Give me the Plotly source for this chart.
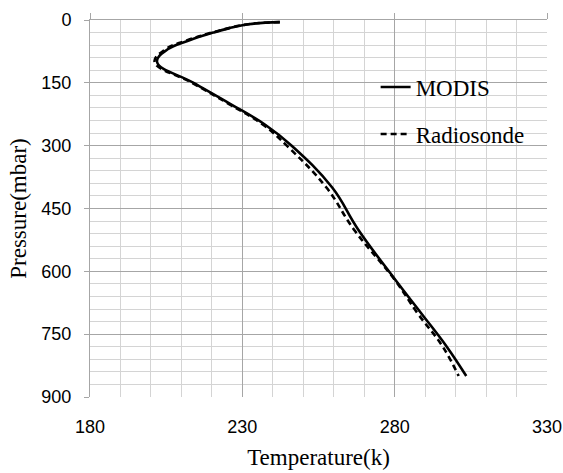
import plotly.graph_objects as go

# Pressure levels (mbar) and temperature profiles (K)
pressure = [5, 10, 20, 30, 50, 70, 100, 150, 200, 250, 300, 400, 500, 620, 700, 780, 850]
modis_temp = [242.3, 232.0, 225.5, 220.5, 212.0, 205.5, 202.0, 214.0, 226.0, 237.5, 246.2,
              259.5, 268.0, 280.2, 288.7, 297.1, 303.5]
radiosonde_temp = [242.3, 232.0, 225.2, 220.0, 211.3, 204.8, 201.2, 213.5, 225.5, 236.8, 244.6,
                   257.6, 266.6, 280.0, 287.5, 295.8, 301.0]

x_ticks = [180, 230, 280, 330]
y_ticks = [0, 150, 300, 450, 600, 750, 900]

sans = "Liberation Sans, Arial, sans-serif"
serif = "Liberation Serif, Times New Roman, serif"
minor_grid = "#d4d4d4"
major_grid = "#a6a6a6"

fig = go.Figure()
fig.add_trace(go.Scatter(
    x=modis_temp, y=pressure, mode="lines", name="MODIS",
    line=dict(color="black", width=2.6, shape="spline", smoothing=1.2),
    legendgroup="a",
))
fig.add_trace(go.Scatter(
    x=radiosonde_temp, y=pressure, mode="lines", name="Radiosonde",
    line=dict(color="black", width=2.6, dash="6px,4px", shape="spline", smoothing=1.2),
    legendgroup="b",
))
# carrier for the top axis line and its tick marks
fig.add_trace(go.Scatter(x=[None], y=[None], xaxis="x2", showlegend=False, hoverinfo="skip"))

fig.update_layout(
    width=563, height=473,
    margin=dict(l=90, r=16, t=20, b=76, autoexpand=False),
    paper_bgcolor="white", plot_bgcolor="white",
    showlegend=True,
    legend=dict(
        x=0.625, y=0.879, xanchor="left", yanchor="top",
        bgcolor="rgba(0,0,0,0)", borderwidth=0,
        font=dict(family=serif, size=23, color="black"),
        traceorder="grouped", tracegroupgap=14,
    ),
    xaxis=dict(
        range=[180, 330], tickvals=x_ticks, ticks="", showline=False,
        tickfont=dict(family=sans, size=18, color="black"),
        ticklabelstandoff=17, automargin=False,
        showgrid=True, gridcolor=major_grid, gridwidth=1,
        minor=dict(dtick=10, showgrid=True, gridcolor=minor_grid, gridwidth=1),
        zeroline=False,
        title=dict(text="Temperature(k)", font=dict(family=serif, size=23, color="black"),
                   standoff=12),
    ),
    xaxis2=dict(
        range=[180, 330], overlaying="x", side="top", anchor="y",
        tickvals=x_ticks, showticklabels=False, automargin=False,
        ticks="outside", ticklen=6, tickcolor=major_grid, tickwidth=1,
        showline=True, linecolor=major_grid, linewidth=1,
        showgrid=False, zeroline=False,
    ),
    yaxis=dict(
        range=[900, 0], tickvals=y_ticks, automargin=False,
        ticks="outside", ticklen=5, tickcolor=major_grid, tickwidth=1,
        showline=True, linecolor=major_grid, linewidth=1,
        tickfont=dict(family=sans, size=18, color="black"),
        ticklabelstandoff=9,
        showgrid=True, gridcolor=major_grid, gridwidth=1,
        minor=dict(dtick=30, showgrid=True, gridcolor=minor_grid, gridwidth=1),
        zeroline=False,
        title=dict(text="Pressure(mbar)", font=dict(family=serif, size=23, color="black"),
                   standoff=8),
    ),
)

fig.write_html("out.html")
